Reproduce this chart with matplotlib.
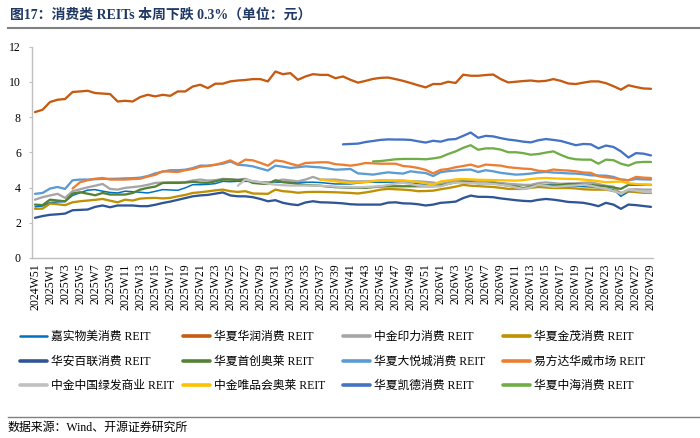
import numpy as np
import matplotlib
matplotlib.use("Agg")
from matplotlib import pyplot as plt
from matplotlib.lines import Line2D

plt.rcParams['font.family'] = ['Liberation Serif', 'Noto Sans CJK SC']

weeks = (["2024W51", "2024W52"]
         + [f"2025W{k}" for k in range(1, 53)]
         + [f"2026W{k}" for k in range(1, 30)])

jiashi = [2.90, 2.95, 3.15, 3.18, 3.20, 3.55, 3.70, 3.85, 3.88, 3.79,
          3.72, 3.69, 3.79, 3.76, 3.73, 3.69, 3.78, 3.88, 3.86, 3.84,
          3.98, 4.16, 4.16, 4.18, 4.22, 4.35, 4.33, 4.35, 4.35, 4.35,
          4.32, 4.30, 4.30, 4.30, 4.30, 4.30, 4.30, 4.30, 4.28, 4.24,
          4.20, 4.20, 4.20, 4.25, 4.30, 4.30, 4.30, 4.30, 4.30, 4.28,
          4.25, 4.22, 4.18, 4.16, 4.10, 4.25, 4.29, 4.31, 4.34, 4.32,
          4.30, 4.29, 4.25, 4.20, 4.15, 4.15, 4.15, 4.15, 4.15, 4.15,
          4.13, 4.10, 4.08, 4.05, 4.03, 3.98, 3.92, 3.88, 3.50, 3.76,
          3.76, 3.73, 3.73]
huarun = [8.28, 8.41, 8.85, 8.98, 9.02, 9.42, 9.45, 9.49, 9.36, 9.33,
          9.30, 8.88, 8.92, 8.88, 9.13, 9.26, 9.17, 9.26, 9.20, 9.45,
          9.45, 9.73, 9.83, 9.64, 9.89, 9.89, 10.02, 10.07, 10.10, 10.15,
          10.15, 10.02, 10.58, 10.43, 10.49, 10.11, 10.30, 10.43, 10.39, 10.39,
          10.20, 10.30, 10.11, 9.95, 10.05, 10.16, 10.22, 10.24, 10.15, 10.05,
          9.93, 9.80, 9.68, 9.87, 9.87, 10.00, 9.93, 10.40, 10.34, 10.34,
          10.38, 10.41, 10.15, 9.96, 10.00, 10.04, 10.07, 10.02, 10.05, 10.15,
          10.05, 9.90, 9.87, 9.95, 10.02, 10.02, 9.92, 9.75, 9.55, 9.80,
          9.70, 9.62, 9.60]
yinli = [3.31, 3.45, 3.55, 3.64, 3.41, 3.79, 3.90, 4.01, 4.10, 4.20,
         3.92, 3.88, 3.98, 4.02, 4.07, 4.15, 4.26, 4.28, 4.30, 4.30,
         4.30, 4.40, 4.45, 4.39, 4.42, 4.49, 4.47, 4.45, 4.49, 4.35,
         4.30, 4.26, 4.36, 4.45, 4.40, 4.35, 4.45, 4.60, 4.45, 4.45,
         4.45, 4.40, 4.35, 4.35, 4.35, 4.37, 4.39, 4.37, 4.35, 4.35,
         4.35, 4.35, 4.32, 4.28, 4.21, 4.30, 4.41, 4.40, 4.38, 4.36,
         4.36, 4.30, 4.25, 4.21, 4.18, 4.15, 4.15, 4.25, 4.29, 4.25,
         4.21, 4.22, 4.24, 4.27, 4.29, 4.20, 4.10, 4.05, 3.65, 3.88,
         3.90, 3.88, 3.88]
jinmao = [2.79, 2.80, 3.09, 3.05, 3.00, 3.16, 3.22, 3.26, 3.30, 3.35,
          3.25, 3.16, 3.31, 3.26, 3.37, 3.40, 3.41, 3.38, 3.41, 3.50,
          3.58, 3.69, 3.73, 3.78, 3.84, 3.88, 3.79, 3.75, 3.79, 3.66,
          3.65, 3.64, 3.88, 3.79, 3.76, 3.70, 3.74, 3.75, 3.75, 3.74,
          3.73, 3.71, 3.69, 3.66, 3.72, 3.79, 3.88, 3.92, 3.90, 3.88,
          3.85, 3.79, 3.80, 3.82, 3.90, 3.97, 4.05, 4.15, 4.10, 4.08,
          4.05, 4.03, 3.98, 3.92, 3.92, 3.92, 3.98, 4.03, 4.00, 3.97,
          3.97, 3.97, 3.95, 3.90, 3.88, 3.88, 3.88, 3.80, 3.69, 3.79,
          3.74, 3.70, 3.69]
bailian = [2.28, 2.38, 2.45, 2.48, 2.52, 2.71, 2.73, 2.75, 2.90, 2.98,
           2.88, 2.98, 2.98, 2.98, 2.94, 2.94, 3.02, 3.12, 3.20, 3.30,
           3.40, 3.50, 3.55, 3.58, 3.65, 3.72, 3.55, 3.50, 3.50, 3.45,
           3.35, 3.22, 3.28, 3.13, 3.05, 3.00, 3.15, 3.22, 3.16, 3.15,
           3.13, 3.10, 3.05, 3.03, 3.03, 3.03, 3.03, 3.14, 3.16, 3.10,
           3.09, 3.05, 2.98, 3.03, 3.13, 3.16, 3.20, 3.40, 3.54, 3.47,
           3.47, 3.45, 3.38, 3.33, 3.28, 3.24, 3.22, 3.30, 3.35, 3.31,
           3.25, 3.18, 3.16, 3.13, 3.05, 2.94, 3.13, 3.03, 2.79, 3.03,
           3.00, 2.95, 2.90]
shouchuang = [3.03, 3.00, 3.31, 3.26, 3.22, 3.66, 3.73, 3.65, 3.56, 3.69,
              3.60, 3.60, 3.60, 3.69, 3.88, 3.98, 4.05, 4.26, 4.26, 4.26,
              4.28, 4.32, 4.28, 4.26, 4.35, 4.45, 4.45, 4.41, 4.45, 4.26,
              4.22, 4.20, 4.41, 4.30, 4.26, 4.20, 4.15, 4.12, 4.10, 4.05,
              4.02, 4.00, 3.98, 3.98, 3.98, 4.02, 4.05, 4.07, 4.07, 4.07,
              4.07, 4.07, 4.07, 4.07, 4.11, 4.20, 4.30, 4.34, 4.30, 4.24,
              4.24, 4.24, 4.18, 4.10, 4.05, 3.97, 4.05, 4.15, 4.12, 4.10,
              4.15, 4.20, 4.18, 4.15, 4.15, 4.10, 4.06, 4.00, 3.92, 4.15,
              4.15, 4.15, 4.15]
dayuecheng = [3.64, 3.69, 3.94, 4.03, 3.92, 4.41, 4.45, 4.45, 4.47, 4.49,
              4.49, 4.50, 4.52, 4.53, 4.56, 4.65, 4.80, 4.90, 4.98, 4.98,
              5.01, 5.10, 5.24, 5.24, 5.29, 5.35, 5.48, 5.29, 5.26, 5.20,
              5.08, 4.96, 5.24, 5.18, 5.11, 5.15, 5.20, 5.17, 5.14, 5.08,
              5.01, 5.03, 5.05, 4.80, 4.77, 4.73, 4.80, 4.86, 4.82, 4.79,
              4.92, 4.86, 4.82, 4.65, 4.87, 4.93, 4.96, 5.00, 5.02, 4.88,
              4.98, 4.92, 4.83, 4.78, 4.73, 4.75, 4.79, 4.85, 4.88, 4.85,
              4.83, 4.80, 4.79, 4.75, 4.69, 4.68, 4.67, 4.60, 4.45, 4.41,
              4.48, 4.46, 4.45]
huawei = [None] * 5 + [
    3.94, 4.30, 4.41, 4.50, 4.54,
    4.45, 4.45, 4.45, 4.48, 4.50, 4.62, 4.72, 4.92, 4.90, 4.88,
    4.98, 5.05, 5.18, 5.22, 5.29, 5.40, 5.54, 5.32, 5.58, 5.54,
    5.40, 5.24, 5.54, 5.48, 5.35, 5.24, 5.39, 5.41, 5.43, 5.43,
    5.32, 5.29, 5.24, 5.30, 5.39, 5.37, 5.35, 5.35, 5.35, 5.22,
    5.18, 5.11, 5.00, 4.80, 5.00, 5.05, 5.15, 5.22, 5.30, 5.17,
    5.30, 5.27, 5.24, 5.15, 5.11, 5.07, 5.05, 4.95, 4.92, 5.02,
    4.98, 4.96, 4.92, 4.85, 4.83, 4.64, 4.58, 4.54, 4.45, 4.41,
    4.60, 4.56, 4.54]
lvfa = [None] * 27 + [
    4.10, 4.45, 4.35,
    4.30, 4.22, 4.16, 4.13, 4.11, 4.11, 4.11, 4.11, 4.09, 4.07,
    4.05, 4.02, 4.01, 4.01, 4.03, 4.05, 4.07, 4.15, 4.22, 4.26,
    4.20, 4.11, 4.09, 4.07, 4.06, 4.20, 4.29, 4.27, 4.25, 4.24,
    4.24, 4.20, 4.15, 4.10, 4.00, 3.92, 4.00, 4.15, 4.10, 4.03,
    4.06, 4.10, 4.12, 4.15, 4.10, 4.00, 3.92, 3.80, 3.65, 3.88,
    3.82, 3.76, 3.73]
weipinhui = [None] * 38 + [
    4.45, 4.40,
    4.35, 4.30, 4.26, 4.28, 4.30, 4.36, 4.41, 4.41, 4.41, 4.41,
    4.36, 4.30, 4.24, 4.16, 4.34, 4.40, 4.46, 4.48, 4.46, 4.44,
    4.43, 4.42, 4.41, 4.40, 4.39, 4.42, 4.48, 4.52, 4.54, 4.52,
    4.50, 4.49, 4.48, 4.45, 4.41, 4.36, 4.30, 4.32, 4.34, 4.24,
    4.20, 4.17, 4.15]
kaide = [None] * 41 + [
    6.45, 6.47, 6.49, 6.58, 6.64, 6.70, 6.73, 6.72, 6.72,
    6.70, 6.62, 6.55, 6.65, 6.60, 6.72, 6.75, 6.93, 7.12, 6.82,
    6.93, 6.90, 6.80, 6.72, 6.67, 6.60, 6.56, 6.68, 6.75, 6.70,
    6.64, 6.52, 6.40, 6.47, 6.45, 6.22, 6.38, 6.30, 6.05, 5.70,
    5.95, 5.92, 5.82]
zhonghai = [None] * 45 + [
    5.48, 5.50, 5.55, 5.60, 5.62,
    5.62, 5.62, 5.60, 5.65, 5.72, 5.90, 6.05, 6.25, 6.40, 6.14,
    6.22, 6.22, 6.15, 6.00, 6.00, 5.95, 5.86, 5.90, 5.98, 6.05,
    5.85, 5.68, 5.60, 5.58, 5.58, 5.35, 5.58, 5.55, 5.35, 5.24,
    5.42, 5.45, 5.45]

series = [
    ("嘉实物美消费 REIT", jiashi, "#0070C0"),
    ("华夏华润消费 REIT", huarun, "#C55A11"),
    ("中金印力消费 REIT", yinli, "#A5A5A5"),
    ("华夏金茂消费 REIT", jinmao, "#BF9000"),
    ("华安百联消费 REIT", bailian, "#2F5597"),
    ("华夏首创奥莱 REIT", shouchuang, "#548235"),
    ("华夏大悦城消费 REIT", dayuecheng, "#5B9BD5"),
    ("易方达华威市场 REIT", huawei, "#ED7D31"),
    ("中金中国绿发商业 REIT", lvfa, "#C0C0C0"),
    ("中金唯品会奥莱 REIT", weipinhui, "#FFC000"),
    ("华夏凯德消费 REIT", kaide, "#4472C4"),
    ("华夏中海消费 REIT", zhonghai, "#70AD47"),
]

W, H = 700, 438
fig = plt.figure(figsize=(7, 4.38), dpi=100)
ax = fig.add_axes([32 / W, 1 - 258 / H, 621 / W, 211.5 / H])

x = np.arange(len(weeks))
handles = []
for k, (name, vals, color) in enumerate(series):
    lw = 1.1 if k == 0 else 1.65
    line, = ax.plot(x, np.array(vals, dtype=float), color=color, linewidth=lw,
                    solid_capstyle="round", label=name)
    handles.append(line)

ax.set_xlim(-0.4, 82.27)
ax.set_ylim(0, 12)
ax.set_yticks(range(0, 13, 2))
ax.set_xticks(x[::2])
ax.set_xticklabels(weeks[::2], rotation=90, ha="center", va="top")
ax.tick_params(axis="x", length=0, pad=4, labelsize=8.5)
ax.tick_params(axis="y", length=2, pad=6, labelsize=8.5, color="#BFBFBF")
for side in ("top", "right"):
    ax.spines[side].set_visible(False)
for side in ("left", "bottom"):
    ax.spines[side].set_color("#BFBFBF")
    ax.spines[side].set_linewidth(1.0)

# legend: 4 columns x 3 rows, row-major order like the source
col_x = [20, 183, 343, 503]
for c, cx in enumerate(col_x):
    idx = [c, c + 4, c + 8]
    leg = fig.legend([handles[i] for i in idx], [series[i][0] for i in idx],
                     loc="upper left", bbox_to_anchor=(cx / W, 1 - 331 / H),
                     frameon=False, fontsize=8.5, handlelength=2.3,
                     handletextpad=0.3, labelspacing=1.07, borderpad=0,
                     borderaxespad=0)
    for i, ln in zip(idx, leg.get_lines()):
        ln.set_linewidth(1.8 if i == 0 else 2.6)

fig.text(10 / W, 1 - 15 / H, "图17：消费类 REITs 本周下跌 0.3%（单位：元）",
         fontsize=10, fontweight="bold", color="#1F3864", va="center", ha="left")
fig.add_artist(Line2D([8 / W, 1], [1 - 27.5 / H] * 2, color="#808080", linewidth=1.5))
fig.add_artist(Line2D([8 / W, 1], [1 - 417 / H] * 2, color="#808080", linewidth=1.0))
fig.text(8 / W, 1 - 428 / H, "数据来源：Wind、开源证券研究所",
         fontsize=8.6, color="#000000", va="center", ha="left")

fig.savefig("out.png", dpi=100)
